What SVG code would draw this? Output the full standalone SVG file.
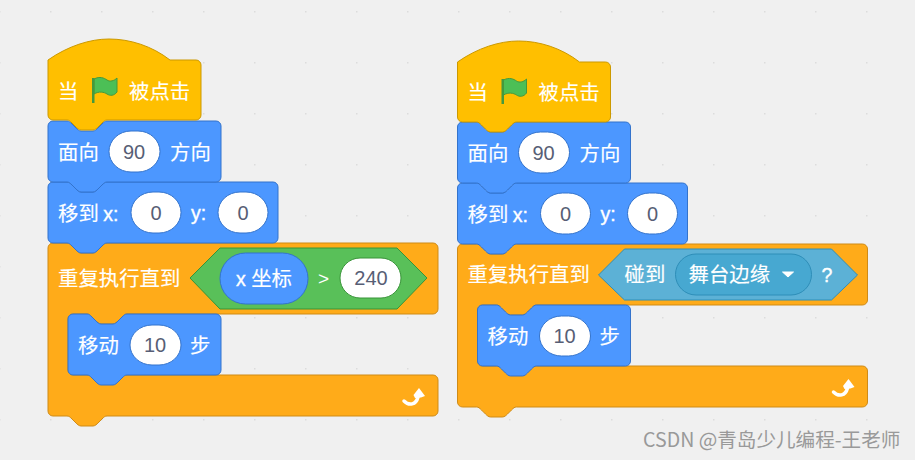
<svg xmlns="http://www.w3.org/2000/svg" xmlns:xlink="http://www.w3.org/1999/xlink" width="915" height="460" viewBox="0 0 915 460">
<style>
text{font-family:"Noto Sans CJK SC","Liberation Sans",sans-serif;font-size:20.4px;fill:#fff;stroke:#fff;stroke-width:.15px}
.num{font-family:"Liberation Sans","Noto Sans CJK SC",sans-serif;fill:#575e75;stroke:none;text-anchor:middle;font-size:20px}
.lat{font-family:"Liberation Sans","Noto Sans CJK SC",sans-serif;font-size:19.500px;stroke-width:.4px}
.gt{font-family:"Liberation Sans",sans-serif;font-size:19px;stroke:none}
.hat{fill:#ffbf00;stroke:#cc9900}
.mot{fill:#4c97ff;stroke:#3373cc}
.ctl{fill:#ffab19;stroke:#cf8b17}
.op{fill:#59c059;stroke:#389438}
.sen{fill:#5cb1d6;stroke:#2e8eb8}
.dd{fill:#47a8d1;stroke:#2e8eb8}
.inp{fill:#fff;stroke:#3373cc}
.inpg{fill:#fff;stroke:#389438}
.wm{font-size:19.6px;fill:#999;stroke:none}
</style>
<defs>
<pattern id="grid" x="50" y="11" width="51" height="51" patternUnits="userSpaceOnUse"><rect x="0" y="0" width="1.5" height="1.5" fill="#dcdcdc"/></pattern>
<path id="hatShape" d="M0,26V21C20,7 42,0 61,0C82,0 104,7 122,21H148a5,5 0 0 1 5,5V76a5,5 0 0 1 -5,5H59c-2,0 -3,1 -5,3l-4,4c-1,1 -3,3 -5,3h-12c-2,0 -4,-2 -5,-3l-4,-4c-2,-2 -3,-3 -5,-3H5a5,5 0 0 1 -5,-5Z"/>
<g id="flag"><path d="M2,2C8,-1 12,1 15,3C18,5 22,4 25,1V15C22,19 18,19 15,17C12,15 7,14 2,17Z" fill="#4cbf56" stroke="#45993d"/><rect x="0" y="1" width="2.5" height="25" fill="#45993d"/></g>
<g id="turn"><path d="M1,13C6,18 13,17 15,9" fill="none" stroke="#fff" stroke-width="3.500" stroke-linecap="round"/><path d="M16,0L22,8L18,9.500L12,10L10.500,7Z" fill="#fff"/></g>
</defs>
<rect width="915" height="460" fill="#f0f0f0"/>
<rect width="915" height="460" fill="url(#grid)"/>

<g id="left-repeat" transform="translate(48,243)">
<path class="ctl" d="M0,5a5,5 0 0 1 5,-5h14c2,0 3,1 5,3l4,4c1,1 3,3 5,3h12c2,0 4,-2 5,-3l4,-4c2,-2 3,-3 5,-3H385a5,5 0 0 1 5,5V66a5,5 0 0 1 -5,5H79c-2,0 -3,1 -5,3l-4,4c-1,1 -3,3 -5,3h-12c-2,0 -4,-2 -5,-3l-4,-4c-2,-2 -3,-3 -5,-3H25a5,5 0 0 0 -5,5V127a5,5 0 0 0 5,5H385a5,5 0 0 1 5,5V168a5,5 0 0 1 -5,5H59c-2,0 -3,1 -5,3l-4,4c-1,1 -3,3 -5,3h-12c-2,0 -4,-2 -5,-3l-4,-4c-2,-2 -3,-3 -5,-3H5a5,5 0 0 1 -5,-5Z"/>
<text x="10" y="43">重复执行直到</text>
<polygon class="op" points="142,35 172,5 349,5 379,35 349,66 172,66"/>
<rect class="mot" x="172" y="10" width="88" height="51" rx="25.500"/>
<text class="lat" x="188" y="43">x <tspan font-family="Noto Sans CJK SC" font-size="20.400" stroke-width=".15">坐标</tspan></text>
<text class="gt" x="270" y="42">&gt;</text>
<rect class="inpg" x="292" y="15" width="61" height="40" rx="20"/>
<text class="num" x="323" y="42">240</text>
<use xlink:href="#turn" x="355" y="145"/>
</g>
<g id="left-move" transform="translate(68,314)">
<path class="mot" d="M0,5a5,5 0 0 1 5,-5h14c2,0 3,1 5,3l4,4c1,1 3,3 5,3h12c2,0 4,-2 5,-3l4,-4c2,-2 3,-3 5,-3H148a5,5 0 0 1 5,5V56a5,5 0 0 1 -5,5H59c-2,0 -3,1 -5,3l-4,4c-1,1 -3,3 -5,3h-12c-2,0 -4,-2 -5,-3l-4,-4c-2,-2 -3,-3 -5,-3H5a5,5 0 0 1 -5,-5Z"/>
<text x="10" y="39">移动</text>
<rect class="inp" x="62" y="11" width="51" height="40" rx="22" ry="20"/>
<text class="num" x="87" y="38">10</text>
<text x="122" y="39">步</text>
</g>
<g id="left-goto" transform="translate(48,182)">
<path class="mot" d="M0,5a5,5 0 0 1 5,-5h14c2,0 3,1 5,3l4,4c1,1 3,3 5,3h12c2,0 4,-2 5,-3l4,-4c2,-2 3,-3 5,-3H225a5,5 0 0 1 5,5V56a5,5 0 0 1 -5,5H59c-2,0 -3,1 -5,3l-4,4c-1,1 -3,3 -5,3h-12c-2,0 -4,-2 -5,-3l-4,-4c-2,-2 -3,-3 -5,-3H5a5,5 0 0 1 -5,-5Z"/>
<text x="10" y="39">移到 <tspan class="lat">x:</tspan></text>
<rect class="inp" x="83" y="10" width="50" height="41" rx="22" ry="20.500"/>
<text class="num" x="108" y="38">0</text>
<text class="lat" x="143" y="38">y:</text>
<rect class="inp" x="170" y="10" width="50" height="41" rx="22" ry="20.500"/>
<text class="num" x="195" y="38">0</text>
</g>
<g id="left-face" transform="translate(48,121)">
<path class="mot" d="M0,5a5,5 0 0 1 5,-5h14c2,0 3,1 5,3l4,4c1,1 3,3 5,3h12c2,0 4,-2 5,-3l4,-4c2,-2 3,-3 5,-3H168a5,5 0 0 1 5,5V56a5,5 0 0 1 -5,5H59c-2,0 -3,1 -5,3l-4,4c-1,1 -3,3 -5,3h-12c-2,0 -4,-2 -5,-3l-4,-4c-2,-2 -3,-3 -5,-3H5a5,5 0 0 1 -5,-5Z"/>
<text x="10" y="39">面向</text>
<rect class="inp" x="61" y="10" width="51" height="41" rx="22" ry="20.500"/>
<text class="num" x="86" y="38">90</text>
<text x="122" y="39">方向</text>
</g>
<g id="left-hat" transform="translate(48,39)">
<use xlink:href="#hatShape" class="hat"/>
<text x="10" y="60">当</text>
<use xlink:href="#flag" x="44" y="38"/>
<text x="81" y="60">被点击</text>
</g>

<g id="right-repeat" transform="translate(457.500,244)">
<path class="ctl" d="M0,5a5,5 0 0 1 5,-5h14c2,0 3,1 5,3l4,4c1,1 3,3 5,3h12c2,0 4,-2 5,-3l4,-4c2,-2 3,-3 5,-3H405a5,5 0 0 1 5,5V56a5,5 0 0 1 -5,5H79c-2,0 -3,1 -5,3l-4,4c-1,1 -3,3 -5,3h-12c-2,0 -4,-2 -5,-3l-4,-4c-2,-2 -3,-3 -5,-3H25a5,5 0 0 0 -5,5V117a5,5 0 0 0 5,5H405a5,5 0 0 1 5,5V158a5,5 0 0 1 -5,5H59c-2,0 -3,1 -5,3l-4,4c-1,1 -3,3 -5,3h-12c-2,0 -4,-2 -5,-3l-4,-4c-2,-2 -3,-3 -5,-3H5a5,5 0 0 1 -5,-5Z"/>
<text x="10" y="38">重复执行直到</text>
<polygon class="sen" points="141,31 167,5 374,5 400,31 374,56 167,56"/>
<text x="167" y="38">碰到</text>
<rect class="dd" x="218" y="10" width="136" height="41" rx="20.500"/>
<text x="231" y="38">舞台边缘</text>
<path d="M325,28h11l-5.500,5Z" fill="#fff" stroke="#fff" stroke-linejoin="round"/>
<text class="lat" x="364" y="38">?</text>
<use xlink:href="#turn" x="375" y="135"/>
</g>
<g id="right-move" transform="translate(477.500,305)">
<path class="mot" d="M0,5a5,5 0 0 1 5,-5h14c2,0 3,1 5,3l4,4c1,1 3,3 5,3h12c2,0 4,-2 5,-3l4,-4c2,-2 3,-3 5,-3H148a5,5 0 0 1 5,5V56a5,5 0 0 1 -5,5H59c-2,0 -3,1 -5,3l-4,4c-1,1 -3,3 -5,3h-12c-2,0 -4,-2 -5,-3l-4,-4c-2,-2 -3,-3 -5,-3H5a5,5 0 0 1 -5,-5Z"/>
<text x="10" y="39">移动</text>
<rect class="inp" x="62" y="11" width="51" height="40" rx="22" ry="20"/>
<text class="num" x="87" y="38">10</text>
<text x="122" y="39">步</text>
</g>
<g id="right-goto" transform="translate(457.500,183)">
<path class="mot" d="M0,5a5,5 0 0 1 5,-5h14c2,0 3,1 5,3l4,4c1,1 3,3 5,3h12c2,0 4,-2 5,-3l4,-4c2,-2 3,-3 5,-3H225a5,5 0 0 1 5,5V56a5,5 0 0 1 -5,5H59c-2,0 -3,1 -5,3l-4,4c-1,1 -3,3 -5,3h-12c-2,0 -4,-2 -5,-3l-4,-4c-2,-2 -3,-3 -5,-3H5a5,5 0 0 1 -5,-5Z"/>
<text x="10" y="39">移到 <tspan class="lat">x:</tspan></text>
<rect class="inp" x="83" y="10" width="50" height="41" rx="22" ry="20.500"/>
<text class="num" x="108" y="38">0</text>
<text class="lat" x="143" y="38">y:</text>
<rect class="inp" x="170" y="10" width="50" height="41" rx="22" ry="20.500"/>
<text class="num" x="195" y="38">0</text>
</g>
<g id="right-face" transform="translate(457.500,122)">
<path class="mot" d="M0,5a5,5 0 0 1 5,-5h14c2,0 3,1 5,3l4,4c1,1 3,3 5,3h12c2,0 4,-2 5,-3l4,-4c2,-2 3,-3 5,-3H168a5,5 0 0 1 5,5V56a5,5 0 0 1 -5,5H59c-2,0 -3,1 -5,3l-4,4c-1,1 -3,3 -5,3h-12c-2,0 -4,-2 -5,-3l-4,-4c-2,-2 -3,-3 -5,-3H5a5,5 0 0 1 -5,-5Z"/>
<text x="10" y="39">面向</text>
<rect class="inp" x="61" y="10" width="51" height="41" rx="22" ry="20.500"/>
<text class="num" x="86" y="38">90</text>
<text x="122" y="39">方向</text>
</g>
<g id="right-hat" transform="translate(457.500,41)">
<use xlink:href="#hatShape" class="hat"/>
<text x="10" y="59">当</text>
<use xlink:href="#flag" x="44" y="37"/>
<text x="81" y="59">被点击</text>
</g>
<text class="wm" x="643" y="447">CSDN @青岛少儿编程-王老师</text>
</svg>
